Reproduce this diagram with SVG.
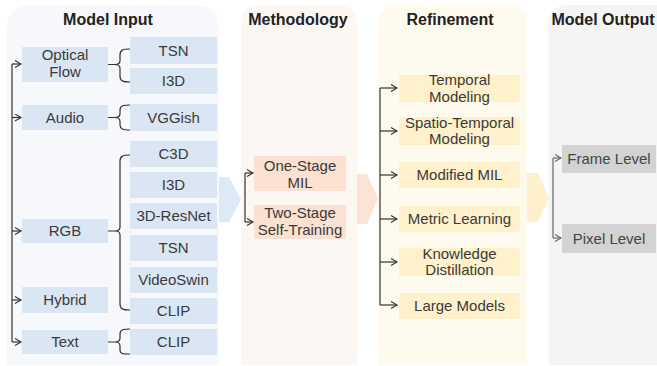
<svg xmlns="http://www.w3.org/2000/svg" width="657" height="366" viewBox="0 0 657 366">
<defs>
<marker id="ah" markerUnits="userSpaceOnUse" markerWidth="10" markerHeight="10" refX="7" refY="4" orient="auto">
<path d="M1,0.5 L7,4 L1,7.5" fill="none" stroke="#333" stroke-width="1.1"/>
</marker>
<marker id="ahg" markerUnits="userSpaceOnUse" markerWidth="10" markerHeight="10" refX="7" refY="4" orient="auto">
<path d="M1,0.5 L7,4 L1,7.5" fill="none" stroke="#666" stroke-width="1.1"/>
</marker>
<style>
.title{font-family:"Liberation Sans",Arial,sans-serif;font-weight:bold;font-size:16px;fill:#222;text-anchor:middle}
.t{font-family:"Liberation Sans",Arial,sans-serif;font-size:15px;fill:#3a3a3a;text-anchor:middle}
.tg{font-family:"Liberation Sans",Arial,sans-serif;font-size:15px;fill:#444;text-anchor:middle}
.blue{fill:#dae6f4}
.peach{fill:#fbe1d1}
.yel{fill:#fef1cc}
.gray{fill:#d3d3d3}
.ln{fill:none;stroke:#333;stroke-width:1.2}
.lng{fill:none;stroke:#666;stroke-width:1.2}
</style>
</defs>
<g id="panels">
<path d="M7,365 V30 Q7,5 32,5 H194 Q219,5 219,30 V365 Z" fill="#f6f8fc"/>
<path d="M241,365 V25 Q241,5 261,5 H337 Q357,5 357,25 V365 Z" fill="#fdf7f3"/>
<path d="M378,365 V25 Q378,5 398,5 H507 Q527,5 527,25 V365 Z" fill="#fffaee"/>
<path d="M549,365 V25 Q549,5 569,5 H670 V365 Z" fill="#f4f4f4"/>
<text class="title" x="108" y="25">Model Input</text>
<text class="title" x="298" y="25">Methodology</text>
<text class="title" x="450" y="25">Refinement</text>
<text class="title" x="603" y="25">Model Output</text>
</g>
<g id="bigarrows">
<path d="M219,177 H229 L241,199.5 L229,222 H219 Z" fill="#dde9f6"/>
<path d="M357,174 H367 L378,198.5 L367,224 H357 Z" fill="#fbe3d6"/>
<path d="M527,173 H538 L549,197.5 L538,222 H527 Z" fill="#fff0cc"/>
</g>
<g id="n-optical"><rect class="blue" x="22" y="47" width="86" height="35"/><text class="t" x="65" y="60">Optical</text><text class="t" x="65" y="77">Flow</text></g>
<g id="n-audio"><rect class="blue" x="22" y="105" width="86" height="25"/><text class="t" x="65" y="123">Audio</text></g>
<g id="n-rgb"><rect class="blue" x="22" y="219" width="86" height="24"/><text class="t" x="65" y="236">RGB</text></g>
<g id="n-hybrid"><rect class="blue" x="22" y="287" width="86" height="26"/><text class="t" x="65" y="305">Hybrid</text></g>
<g id="n-text"><rect class="blue" x="22" y="330" width="86" height="24"/><text class="t" x="65" y="347">Text</text></g>
<g id="n-tsn1"><rect class="blue" x="130" y="37" width="87" height="27"/><text class="t" x="173.5" y="56">TSN</text></g>
<g id="n-i3d1"><rect class="blue" x="130" y="68" width="87" height="26"/><text class="t" x="173.5" y="86">I3D</text></g>
<g id="n-vggish"><rect class="blue" x="130" y="104" width="87" height="27"/><text class="t" x="173.5" y="123">VGGish</text></g>
<g id="n-c3d"><rect class="blue" x="130" y="141" width="87" height="26"/><text class="t" x="173.5" y="159">C3D</text></g>
<g id="n-i3d2"><rect class="blue" x="130" y="172" width="87" height="26"/><text class="t" x="173.5" y="190">I3D</text></g>
<g id="n-resnet"><rect class="blue" x="130" y="203" width="87" height="26"/><text class="t" x="173.5" y="221">3D-ResNet</text></g>
<g id="n-tsn2"><rect class="blue" x="130" y="235" width="87" height="26"/><text class="t" x="173.5" y="253">TSN</text></g>
<g id="n-videoswin"><rect class="blue" x="130" y="267" width="87" height="26"/><text class="t" x="173.5" y="285">VideoSwin</text></g>
<g id="n-clip1"><rect class="blue" x="130" y="298" width="87" height="26"/><text class="t" x="173.5" y="316">CLIP</text></g>
<g id="n-clip2"><rect class="blue" x="130" y="329" width="87" height="26"/><text class="t" x="173.5" y="347">CLIP</text></g>
<g id="n-onestage"><rect class="peach" x="254" y="156" width="92" height="35"/><text class="t" x="300" y="171">One-Stage</text><text class="t" x="300" y="188">MIL</text></g>
<g id="n-twostage"><rect class="peach" x="254" y="205" width="92" height="34"/><text class="t" x="300" y="218">Two-Stage</text><text class="t" x="300" y="235">Self-Training</text></g>
<g id="n-temporal"><rect class="yel" x="399" y="75" width="121" height="27"/><text class="t" x="459.5" y="85">Temporal</text><text class="t" x="459.5" y="102">Modeling</text></g>
<g id="n-spatio"><rect class="yel" x="399" y="117" width="121" height="28"/><text class="t" x="459.5" y="128">Spatio-Temporal</text><text class="t" x="459.5" y="144">Modeling</text></g>
<g id="n-modmil"><rect class="yel" x="399" y="162" width="121" height="26"/><text class="t" x="459.5" y="180">Modified MIL</text></g>
<g id="n-metric"><rect class="yel" x="399" y="206" width="121" height="26"/><text class="t" x="459.5" y="224">Metric Learning</text></g>
<g id="n-kd"><rect class="yel" x="399" y="248" width="121" height="28"/><text class="t" x="459.5" y="259">Knowledge</text><text class="t" x="459.5" y="275">Distillation</text></g>
<g id="n-large"><rect class="yel" x="399" y="293" width="121" height="26"/><text class="t" x="459.5" y="311">Large Models</text></g>
<g id="n-frame"><rect class="gray" x="562" y="145" width="94" height="28"/><text class="tg" x="609" y="164">Frame Level</text></g>
<g id="n-pixel"><rect class="gray" x="562" y="224" width="94" height="29"/><text class="tg" x="609" y="244">Pixel Level</text></g>
<g id="connectors">
<path class="ln" d="M12,64 V342"/>
<path class="ln" d="M12,64 H21" marker-end="url(#ah)"/>
<path class="ln" d="M12,117.5 H21" marker-end="url(#ah)"/>
<path class="ln" d="M12,231 H21" marker-end="url(#ah)"/>
<path class="ln" d="M12,300 H21" marker-end="url(#ah)"/>
<path class="ln" d="M12,342 H21" marker-end="url(#ah)"/>
<path class="ln" d="M108,64.5 H115 M130,49 C123,49 120,50 120,55 V60.5 C120,63.5 118,64.5 115,64.5 C118,64.5 120,65.5 120,68.5 V76 C120,81 123,82 130,82"/>
<path class="ln" d="M108,117.5 H115 M130,105 C123,105 120,106 120,110 V113.5 C120,116.5 118,117.5 115,117.5 C118,117.5 120,118.5 120,121.5 V125 C120,129 123,130 130,130"/>
<path class="ln" d="M108,231 H115 M130,155 C123,155 120,156 120,161 V227 C120,230 118,231 115,231 C118,231 120,232 120,235 V304 C120,309 123,310 130,310"/>
<path class="ln" d="M108,342 H115 M130,329 C123,329 120,330 120,334 V338 C120,341 118,342 115,342 C118,342 120,343 120,346 V350 C120,354 123,354 130,354"/>
<path class="ln" d="M245,173 V222"/>
<path class="ln" d="M245,173 H253" marker-end="url(#ah)"/>
<path class="ln" d="M245,222 H253" marker-end="url(#ah)"/>
<path class="ln" d="M380,88 V305"/>
<path class="ln" d="M380,88 H397" marker-end="url(#ah)"/>
<path class="ln" d="M380,131 H397" marker-end="url(#ah)"/>
<path class="ln" d="M380,175 H397" marker-end="url(#ah)"/>
<path class="ln" d="M380,219 H397" marker-end="url(#ah)"/>
<path class="ln" d="M380,262 H397" marker-end="url(#ah)"/>
<path class="ln" d="M380,305 H397" marker-end="url(#ah)"/>
<path class="lng" d="M553,158 V238"/>
<path class="lng" d="M553,158 H561" marker-end="url(#ahg)"/>
<path class="lng" d="M553,238 H561" marker-end="url(#ahg)"/>
</g>
</svg>
